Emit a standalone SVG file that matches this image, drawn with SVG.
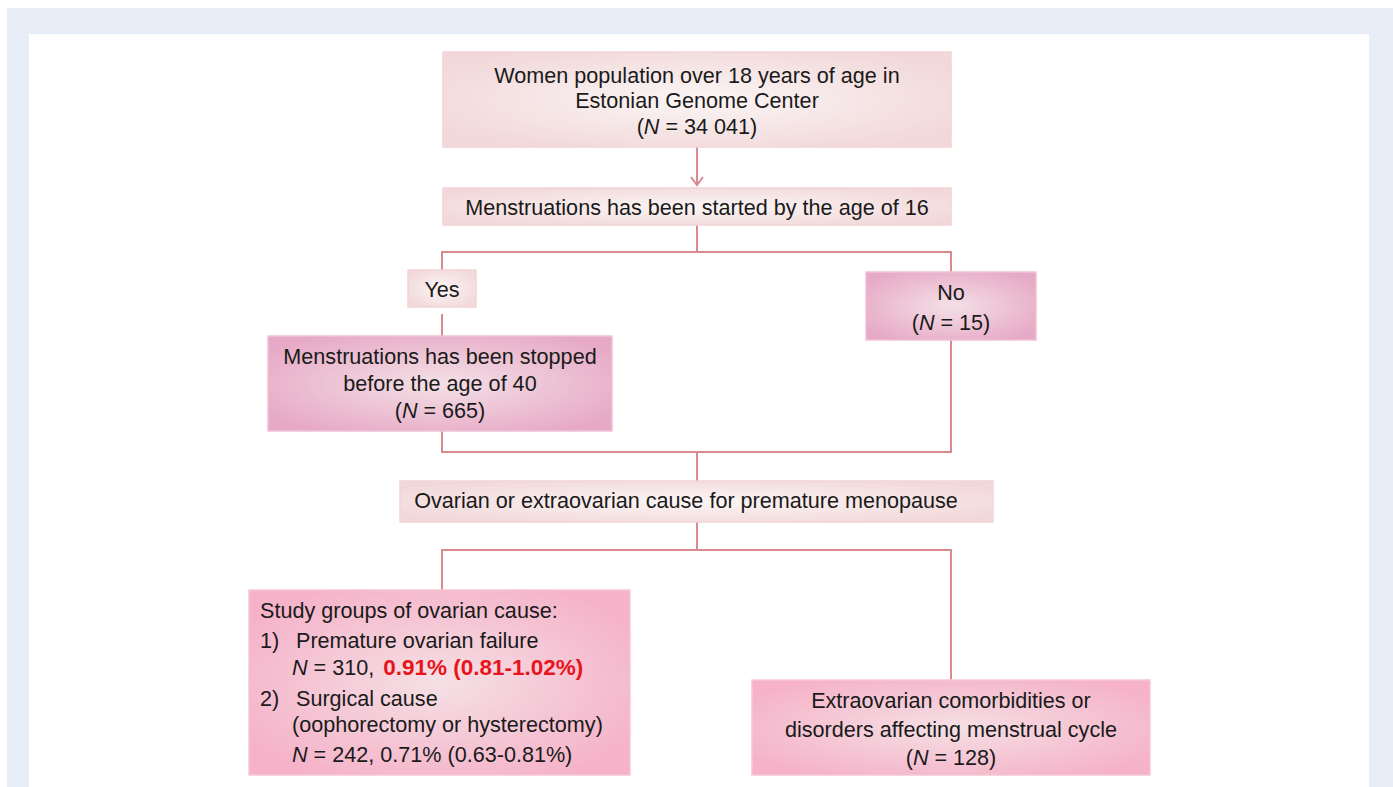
<svg xmlns="http://www.w3.org/2000/svg" width="1393" height="787" viewBox="0 0 1393 787">
<style>
text{font-family:"Liberation Sans",Arial,sans-serif;font-size:21.6px;fill:#1a1a1a}
.c{text-anchor:middle}
.i{font-style:italic}
.red{fill:#e8141c;font-weight:bold}
.con{stroke:#d98a8e;stroke-width:2;fill:none}
.lt{stroke:#f2d4d6;stroke-width:1.5}
.pk{stroke:#eec2d4;stroke-width:1.5}
.hp{stroke:#f6c6d4;stroke-width:1.5}
</style>
<defs>
<radialGradient id="gl" cx="0.5" cy="0.5" r="0.6">
<stop offset="0" stop-color="#fbf5f5"/><stop offset="1" stop-color="#f2d8d9"/>
</radialGradient>
<radialGradient id="gp" cx="0.5" cy="0.5" r="0.6">
<stop offset="0" stop-color="#f4e0e6"/><stop offset="1" stop-color="#e7aac6"/>
</radialGradient>
<radialGradient id="gh" cx="0.5" cy="0.5" r="0.6">
<stop offset="0" stop-color="#f5e0e5"/><stop offset="1" stop-color="#f5b2c8"/>
</radialGradient>
</defs>
<rect x="0" y="0" width="1393" height="787" fill="#ffffff"/>
<rect x="7" y="8" width="1386" height="779" fill="#e7eef8"/>
<rect x="29" y="34" width="1340" height="753" fill="#ffffff"/>
<g id="connectors">
<line class="con" x1="697" y1="147" x2="697" y2="185"/>
<path class="con" d="M691,177 L697,185 L703,177"/>
<path class="con" d="M697,225 V252 M442,270 V252 H951 V272"/>
<path class="con" d="M442,314 V336"/>
<path class="con" d="M442,431 V452 H951 V340 M697,452 V481"/>
<path class="con" d="M697,522 V550 M442,590 V550 H951 V680"/>
</g>
<g id="n1">
<rect class="lt" x="443" y="52" width="508" height="95" fill="url(#gl)"/>
<text class="c" x="697" y="83">Women population over 18 years of age in</text>
<text class="c" x="697" y="108">Estonian Genome Center</text>
<text class="c" x="697" y="134">(<tspan class="i">N</tspan> = 34 041)</text>
</g>
<g id="n2">
<rect class="lt" x="443" y="188" width="508" height="37" fill="url(#gl)"/>
<text class="c" x="697" y="215">Menstruations has been started by the age of 16</text>
</g>
<g id="yes">
<rect class="lt" x="408" y="270" width="68" height="37" fill="url(#gl)"/>
<text class="c" x="442" y="297">Yes</text>
</g>
<g id="no">
<rect class="pk" x="866" y="272" width="170" height="68" fill="url(#gp)"/>
<text class="c" x="951" y="300">No</text>
<text class="c" x="951" y="330">(<tspan class="i">N</tspan> = 15)</text>
</g>
<g id="stopped">
<rect class="pk" x="268" y="336" width="344" height="95" fill="url(#gp)"/>
<text class="c" x="440" y="364">Menstruations has been stopped</text>
<text class="c" x="440" y="391">before the age of 40</text>
<text class="c" x="440" y="418">(<tspan class="i">N</tspan> = 665)</text>
</g>
<g id="cause">
<rect class="lt" x="400" y="481" width="593" height="41" fill="url(#gl)"/>
<text class="c" x="686" y="508">Ovarian or extraovarian cause for premature menopause</text>
</g>
<g id="ovarian">
<rect class="hp" x="249" y="590" width="381" height="185" fill="url(#gh)"/>
<text x="260" y="618">Study groups of ovarian cause:</text>
<text x="260" y="648">1)</text>
<text x="296" y="648">Premature ovarian failure</text>
<text x="292" y="675"><tspan class="i">N</tspan> = 310, <tspan class="red" dx="3" style="font-size:22.5px">0.91% (0.81-1.02%)</tspan></text>
<text x="260" y="706">2)</text>
<text x="296" y="706">Surgical cause</text>
<text x="292" y="732">(oophorectomy or hysterectomy)</text>
<text x="292" y="762"><tspan class="i">N</tspan> = 242, 0.71% (0.63-0.81%)</text>
</g>
<g id="extra">
<rect class="hp" x="752" y="680" width="398" height="95" fill="url(#gh)"/>
<text class="c" x="951" y="708">Extraovarian comorbidities or</text>
<text class="c" x="951" y="737">disorders affecting menstrual cycle</text>
<text class="c" x="951" y="765">(<tspan class="i">N</tspan> = 128)</text>
</g>
</svg>
